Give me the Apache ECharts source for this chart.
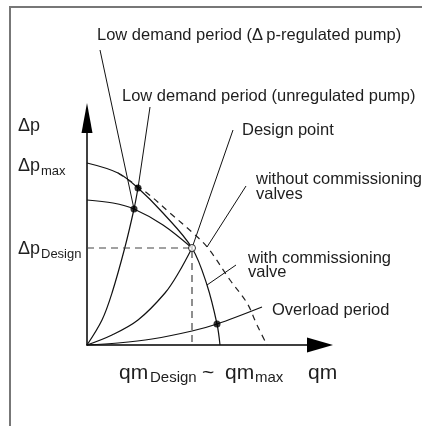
<!DOCTYPE html>
<html>
<head>
<meta charset="utf-8">
<script src="https://cdn.jsdelivr.net/npm/echarts@6/dist/echarts.min.js"></script>
<style>
  html, body { margin: 0; padding: 0; background: #fff; }
  #chart { width: 422px; height: 426px; }
</style>
</head>
<body>
<div id="chart"></div>
<script>
// drawing units: x = flow qm, y = differential pressure Δp (origin at 0,0)
const pumpCurve = [[0, 182], [31, 172], [51, 157], [76, 132], [105, 97], [120, 60], [130, 21], [133, 0]]
const pumpCurveRegulated = [[0, 145], [26, 142], [47, 136], [76, 120], [105, 97]]
const pumpCurveNoValves = [[31, 172], [60, 152], [83, 132], [106, 112], [121, 97], [143, 65], [160, 42], [170, 20], [180, 0]]
const systemLowDemand = [[0, 0], [15, 25], [25, 52], [38, 98], [47, 136], [51, 157]]
const systemDesign = [[0, 0], [25, 10], [51, 25], [78, 52], [92, 73], [105, 97]]
const systemOverload = [[0, 0], [31, 2], [65, 6], [105, 14], [130, 21], [175, 38]]
const designPoint = [105, 97]
const operatingPoints = [[47, 136], [51, 157], [130, 21]]
const designGuide = [[0, 97], [105, 97], [105, 0]]
const leaderLines = [
  [[47, 136], [13, 295]],
  [[51, 157], [63, 238]],
  [[105, 97], [146, 215]],
  [[120, 98], [159, 159]],
  [[120, 60], [149, 80]]
]
const annotations = [
  'Low demand period (Δ\u2009p-regulated pump)',
  'Low demand period (unregulated pump)',
  'Design point',
  'without commissioning',
  'valves',
  'with commissioning',
  'valve',
  'Overload period'
]

const FONT = '"Liberation Sans", Arial, Helvetica, sans-serif'
const INK = '#1e1e1e'

const curve = (data, extra) => Object.assign({
  type: 'line',
  data: data,
  smooth: 0.35,
  showSymbol: false,
  clip: false,
  silent: true,
  lineStyle: { color: '#111', width: 1.2 }
}, extra || {})

const txt = (text, x, y, size) => ({
  type: 'text',
  x: x,
  y: y,
  silent: true,
  style: {
    text: text,
    font: size + 'px ' + FONT,
    fill: INK,
    align: 'left',
    verticalAlign: 'middle'
  }
})

const series = [
  curve(pumpCurve),
  curve(pumpCurveRegulated),
  curve(pumpCurveNoValves, { lineStyle: { color: '#222', width: 1.2, type: [6, 5] } }),
  curve(systemLowDemand),
  curve(systemDesign),
  curve(systemOverload),
  curve(designGuide, { smooth: false, lineStyle: { color: '#444', width: 1.2, type: [7, 5] } })
]
leaderLines.forEach(l => series.push(curve(l, { smooth: false, lineStyle: { color: '#111', width: 1 } })))
series.push({
  type: 'scatter',
  data: operatingPoints,
  symbolSize: 7,
  silent: true,
  z: 5,
  itemStyle: { color: '#000' }
})
series.push({
  type: 'scatter',
  data: [designPoint],
  symbolSize: 7,
  silent: true,
  z: 6,
  itemStyle: { color: '#fff', borderColor: '#000', borderWidth: 1 }
})

const chart = echarts.init(document.getElementById('chart'))
chart.setOption({
  animation: false,
  backgroundColor: '#fff',
  grid: { left: 87, right: 102, top: 118, bottom: 81 },
  xAxis: {
    type: 'value', min: 0, max: 233,
    axisLine: { show: true, symbol: ['none', 'triangle'], symbolSize: [15, 26], lineStyle: { color: '#000', width: 1.5 } },
    axisTick: { show: false }, axisLabel: { show: false }, splitLine: { show: false }
  },
  yAxis: {
    type: 'value', min: 0, max: 227,
    axisLine: { show: true, symbol: ['none', 'triangle'], symbolSize: [11, 30], lineStyle: { color: '#000', width: 1.5 } },
    axisTick: { show: false }, axisLabel: { show: false }, splitLine: { show: false }
  },
  series: series,
  graphic: [
    // frame
    { type: 'polyline', silent: true, shape: { points: [[10, 426], [10, 7], [422, 7]] }, style: { stroke: '#777', lineWidth: 2, fill: null } },
    // axis names
    txt('Δp', 18, 126, 18),
    txt('Δp', 18, 166, 18),
    txt('max', 41, 171, 13),
    txt('Δp', 18, 249, 18),
    txt('Design', 41, 254, 13),
    txt('qm', 119, 373, 21),
    txt('Design', 150, 378, 15),
    txt('~', 202, 373, 21),
    txt('qm', 225, 373, 21),
    txt('max', 255, 378, 15),
    txt('qm', 308, 373, 21),
    // annotations
    txt(annotations[0], 97, 35, 16.5),
    txt(annotations[1], 122, 96, 16.5),
    txt(annotations[2], 242, 130, 16.5),
    txt(annotations[3], 256, 179, 16.5),
    txt(annotations[4], 256, 194, 16.5),
    txt(annotations[5], 248, 258, 16.5),
    txt(annotations[6], 248, 272, 16.5),
    txt(annotations[7], 272, 310, 16.5)
  ]
})
</script>
</body>
</html>
